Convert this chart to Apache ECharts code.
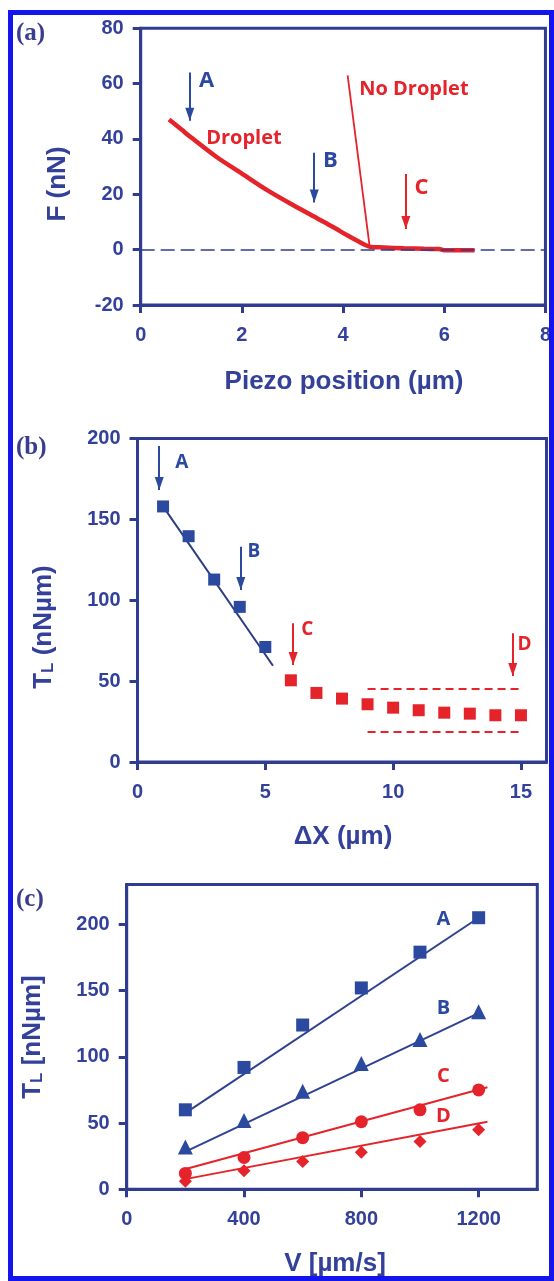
<!DOCTYPE html>
<html><head><meta charset="utf-8">
<script src="https://cdn.jsdelivr.net/npm/echarts@6/dist/echarts.min.js"></script>
<style>html,body{margin:0;padding:0;background:#fff}#c{width:554px;height:1281px}</style>
</head><body><div id="c"></div>
<script>
// ---------- Panel (a) data ----------
const aXTicks = [0, 2, 4, 6, 8];
const aYTicks = [-20, 0, 20, 40, 60, 80];
const dropletCurve = [[0.56,47],[0.8,43.5],[1.0,40.5],[1.5,33.5],[2.0,27.5],[2.5,21.5],[3.0,16.2],[3.5,11.2],[3.8,8.2],[4.1,5],[4.3,3],[4.45,1.6],[4.55,1],[4.8,0.8],[5.2,0.5],[5.6,0.3],[5.9,0.2],[6.0,-0.2],[6.6,-0.2]];
const noDropletLine = [[4.09,63],[4.53,0.5]];
const aArrowX = [0.97, 3.43, 5.24];
const aArrowTop = [64, 35, 27.3];
const aArrowTip = [46.6, 17, 7.5];
const aArrowColor = ['blue','blue','red'];
const aTexts = [[1.30,61.1,'A','blue'],[3.75,32.2,'B','blue'],[5.55,22.3,'C','red']];
const aCurveLabels = [[2.04,40.3,'Droplet'],[5.40,58.1,'No Droplet']];

// ---------- Panel (b) data ----------
const bXTicks = [0, 5, 10, 15];
const bYTicks = [0, 50, 100, 150, 200];
const bBlueX = [1, 2, 3, 4, 5];
const bBlueY = [158, 139.6, 112.8, 95.9, 71.1];
const bRedX = [6, 7, 8, 9, 10, 11, 12, 13, 14, 15];
const bRedY = [50.5, 42.7, 39.2, 35.7, 33.6, 32, 30.5, 29.9, 28.9, 28.9];
const bFitLine = [[1, 158], [5.3, 59.5]];
const bBandX = [9, 15];
const bBandY = [45, 18.7];
const bArrowX = [0.85, 4.04, 6.09, 14.68];
const bArrowTop = [195.4, 133, 85.8, 79.6];
const bArrowTip = [168.2, 106.4, 60, 53.2];
const bArrowColor = ['blue','blue','red','red'];
const bTexts = [[1.73,185,'A','blue'],[4.55,130,'B','blue'],[6.64,82,'C','red'],[15.14,72.4,'D','red']];

// ---------- Panel (c) data ----------
const cXTicks = [0, 400, 800, 1200];
const cYTicks = [0, 50, 100, 150, 200];
const cV = [200, 400, 600, 800, 1000, 1200];
const cA = [60, 92, 124, 152, 179, 205];
const cB = [32, 52, 74, 95, 113, 134];
const cC = [12, 24, 39, 51, 60, 75];
const cD = [6, 14, 21, 28, 36, 45];
const cFitA = [[210, 59], [1200, 205]];
const cFitB = [[215, 30], [1200, 133]];
const cFitC = [[195, 15], [1230, 77]];
const cFitD = [[195, 7.5], [1230, 51]];
const cTexts = [[1080,204,'A','blue'],[1080,137,'B','blue'],[1080,85,'C','red'],[1080,55,'D','red']];

// ---------- styles ----------
const NAVY = '#2f3c8f';
const LABEL = '#33419a';
const BLUE = '#2b4a9f';
const RED = '#e5232a';
const FRAME = '#1414ee';
const COL = {blue: BLUE, red: RED};
const TICKFONT = 'Liberation Sans, Arial, sans-serif';
const ANNFONT = 'Open Sans, sans-serif';

function xAxisCfg(gi, min, max, ticks, interval) {
  return {
    type: 'value', gridIndex: gi, min: min, max: max, interval: interval,
    axisLine: {show: true, onZero: false, lineStyle: {color: NAVY, width: 3}},
    axisTick: {show: true, inside: false, length: 8, lineStyle: {color: NAVY, width: 3}, customValues: ticks},
    axisLabel: {show: true, color: LABEL, fontSize: 20, fontWeight: 'bold', fontFamily: TICKFONT, margin: 20,
                customValues: ticks, formatter: v => String(v)},
    splitLine: {show: false}
  };
}
function yAxisCfg(gi, min, max, ticks, interval) {
  return {
    type: 'value', gridIndex: gi, min: min, max: max, interval: interval,
    axisLine: {show: true, onZero: false, lineStyle: {color: NAVY, width: 3}},
    axisTick: {show: true, inside: false, length: 8, lineStyle: {color: NAVY, width: 3}, customValues: ticks},
    axisLabel: {show: true, color: LABEL, fontSize: 20, fontWeight: 'bold', fontFamily: TICKFONT, margin: 17,
                customValues: ticks, formatter: v => String(v)},
    splitLine: {show: false}
  };
}

function arrowSeries(gi, xs, tops, tips, cols) {
  const shafts = xs.map((x, i) => ({coords: [[x, tops[i]], [x, tips[i]]], lineStyle: {color: COL[cols[i]]}}));
  const heads = xs.map((x, i) => ({value: [x, tips[i]], itemStyle: {color: COL[cols[i]], opacity: 1}}));
  return [
    {type: 'lines', coordinateSystem: 'cartesian2d', xAxisIndex: gi, yAxisIndex: gi, silent: true, z: 5,
     lineStyle: {width: 2, opacity: 1}, effect: {show: false}, data: shafts},
    {type: 'scatter', xAxisIndex: gi, yAxisIndex: gi, silent: true, z: 6, itemStyle: {opacity: 1},
     symbol: 'path://M0,0 L10,0 L5,14 Z', symbolSize: [9, 13], symbolOffset: [0, -6.5], data: heads}
  ];
}
function textSeries(gi, items, size) {
  return {
    type: 'scatter', xAxisIndex: gi, yAxisIndex: gi, silent: true, symbolSize: 0, z: 7,
    itemStyle: {opacity: 1},
    label: {show: true, position: 'inside', fontSize: size, fontWeight: 'bold', fontFamily: ANNFONT, opacity: 1,
            formatter: p => p.data.value[2]},
    data: items.map(t => ({value: [t[0], t[1], t[2]], label: {color: COL[t[3]] || RED}}))
  };
}
function scatterXY(gi, xs, ys, color, symbol, size) {
  return {type: 'scatter', xAxisIndex: gi, yAxisIndex: gi, silent: true, symbol: symbol, symbolSize: size,
          itemStyle: {color: color, opacity: 1}, z: 4, data: xs.map((x, i) => [x, ys[i]])};
}
function lineXY(gi, data, color, width, extra) {
  return Object.assign({type: 'line', xAxisIndex: gi, yAxisIndex: gi, silent: true, symbol: 'none',
          lineStyle: {color: color, width: width}, data: data, z: 3, animation: false}, extra || {});
}

const gridCommon = {show: true, borderColor: NAVY, borderWidth: 3, backgroundColor: 'transparent', containLabel: false};

const series = [];
// (a)
series.push(lineXY(0, dropletCurve, RED, 4.5, {smooth: 0.3,
  markLine: {silent: true, symbol: ['none','none'], label: {show: false},
             lineStyle: {color: NAVY, width: 1.5, type: [14, 6]}, data: [{yAxis: 0}]}}));
series.push(lineXY(0, noDropletLine, RED, 1.8));
series.push(...arrowSeries(0, aArrowX, aArrowTop, aArrowTip, aArrowColor));
series.push(textSeries(0, aTexts, 22));
series.push(textSeries(0, aCurveLabels.map(t => [t[0], t[1], t[2], 'red']), 20));
// (b)
series.push(lineXY(1, bFitLine, '#2c3d80', 2));
series.push(scatterXY(1, bBlueX, bBlueY, BLUE, 'rect', 12));
series.push(scatterXY(1, bRedX, bRedY, RED, 'rect', 12));
series.push({type: 'lines', coordinateSystem: 'cartesian2d', xAxisIndex: 1, yAxisIndex: 1, silent: true,
  lineStyle: {color: RED, width: 2, type: [8, 5], opacity: 1},
  data: bBandY.map(y => ({coords: [[bBandX[0], y], [bBandX[1], y]]}))});
series.push(...arrowSeries(1, bArrowX, bArrowTop, bArrowTip, bArrowColor));
series.push(textSeries(1, bTexts, 19));
// (c)
series.push(lineXY(2, cFitA, '#2f4194', 2));
series.push(lineXY(2, cFitB, '#2f4194', 2));
series.push(lineXY(2, cFitC, RED, 2));
series.push(lineXY(2, cFitD, RED, 2));
series.push(scatterXY(2, cV, cA, BLUE, 'rect', 13));
series.push(scatterXY(2, cV, cB, BLUE, 'triangle', 15));
series.push(scatterXY(2, cV, cC, RED, 'circle', 13));
series.push(scatterXY(2, cV, cD, RED, 'diamond', 13));
series.push(textSeries(2, cTexts, 20));

function title(x, y, text, rot, rich) {
  const el = {type: 'text', x: x, y: y, rotation: rot || 0, z: 50,
    style: {text: text, fill: LABEL, font: 'bold 26px ' + TICKFONT, align: 'center', verticalAlign: 'middle'}};
  if (rich) el.style.rich = rich;
  return el;
}
const subRich = {
  t: {fontSize: 26, fontWeight: 'bold', fontFamily: TICKFONT, fill: LABEL, color: LABEL, verticalAlign: 'bottom', lineHeight: 30},
  s: {fontSize: 17, fontWeight: 'bold', fontFamily: TICKFONT, fill: LABEL, color: LABEL, verticalAlign: 'bottom', lineHeight: 26}
};
function panelLabel(x, y, text) {
  return {type: 'text', x: x, y: y, z: 50,
    style: {text: text, fill: '#3a3d8f', font: 'bold 25px Liberation Serif, Times New Roman, serif', align: 'left', verticalAlign: 'middle'}};
}

const option = {
  animation: false,
  backgroundColor: '#fff',
  grid: [
    Object.assign({left: 140.7, top: 28.3, width: 406, height: 276.7}, gridCommon),
    Object.assign({left: 137.5, top: 438.5, width: 409, height: 323.5}, gridCommon),
    Object.assign({left: 126.7, top: 884.6, width: 410.6, height: 304.7}, gridCommon)
  ],
  xAxis: [
    xAxisCfg(0, 0, 8, aXTicks, 2),
    xAxisCfg(1, 0, 16, bXTicks, 5),
    xAxisCfg(2, 0, 1400, cXTicks, 400)
  ],
  yAxis: [
    yAxisCfg(0, -20, 80, aYTicks, 20),
    yAxisCfg(1, 0, 200, bYTicks, 50),
    yAxisCfg(2, 0, 230, cYTicks, 50)
  ],
  series: series,
  graphic: [
    panelLabel(16, 34, '(a)'),
    panelLabel(16, 448, '(b)'),
    panelLabel(16, 900, '(c)'),
    title(344, 382, 'Piezo position (µm)'),
    title(343, 837, 'ΔX (µm)'),
    title(335, 1264, 'V [µm/s]'),
    title(58, 184, 'F (nN)', Math.PI / 2),
    title(42, 627, '{t|T}{s|L}{t| (nNµm)}', Math.PI / 2, subRich),
    title(31, 1037, '{t|T}{s|L}{t| [nNµm]}', Math.PI / 2, subRich),
    {type: 'rect', z: 100, silent: true, shape: {x: 10.5, y: 12.5, width: 541, height: 1266},
     style: {fill: 'none', stroke: FRAME, lineWidth: 5}}
  ]
};
const chart = echarts.init(document.getElementById('c'), null, {renderer: 'canvas'});
chart.setOption(option);
</script></body></html>
